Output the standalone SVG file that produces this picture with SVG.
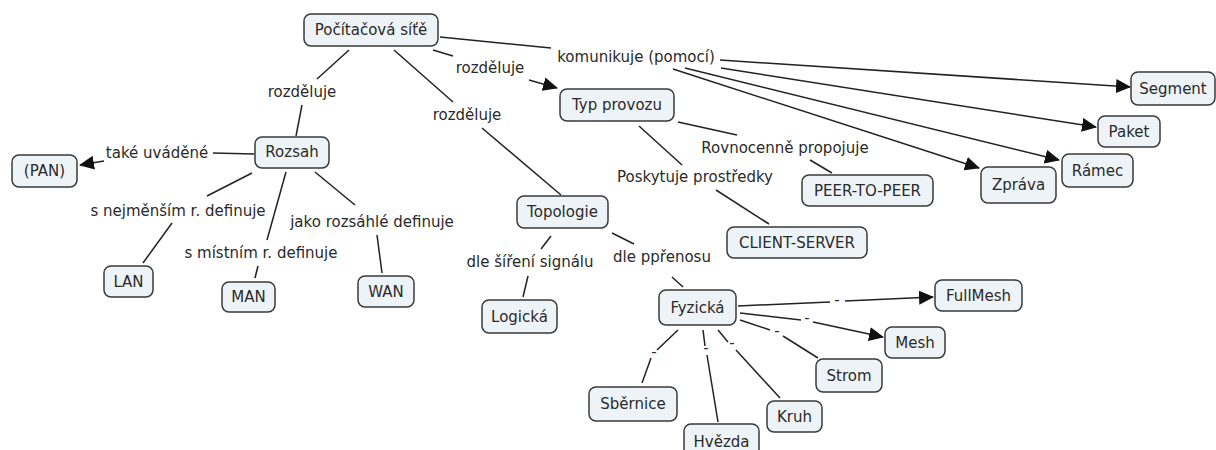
<svg xmlns="http://www.w3.org/2000/svg" width="1216" height="450" viewBox="0 0 1216 450">
<style>
.n rect{fill:#eef3f7;stroke:#3a3a3a;stroke-width:1.5}
text{font-family:"DejaVu Sans","Verdana",sans-serif;font-size:15px;fill:#2a2a2a;text-anchor:middle}
.c line{stroke:#222;stroke-width:1.5;fill:none}
.c line.a{marker-end:url(#ah)}
</style>
<defs>
<marker id="ah" markerUnits="userSpaceOnUse" markerWidth="16" markerHeight="14" refX="14" refY="7" orient="auto">
<path d="M0,0 L15,7 L0,14 Z" fill="#111"/>
</marker>
</defs>
<rect width="1216" height="450" fill="#fff"/>
<g id="connectors" class="c">
<line x1="349" y1="50" x2="317" y2="79"/>
<line x1="302" y1="105" x2="296" y2="136"/>
<line x1="433" y1="50" x2="453" y2="56"/>
<line class="a" x1="529" y1="80" x2="557" y2="88"/>
<line x1="394" y1="50" x2="453" y2="102"/>
<line x1="482" y1="128" x2="561" y2="195"/>
<line x1="440" y1="37" x2="551" y2="48"/>
<line class="a" x1="720" y1="60" x2="1130" y2="87"/>
<line class="a" x1="721" y1="68" x2="1096" y2="127"/>
<line class="a" x1="685" y1="68" x2="1059" y2="160"/>
<line class="a" x1="673" y1="69" x2="979" y2="168"/>
<line x1="254" y1="154" x2="213" y2="153"/>
<line class="a" x1="104" y1="161" x2="80" y2="165"/>
<line x1="252" y1="173" x2="207" y2="196"/>
<line x1="172" y1="223" x2="143" y2="263"/>
<line x1="286" y1="172" x2="267" y2="240"/>
<line x1="258" y1="266" x2="255" y2="278"/>
<line x1="315" y1="172" x2="355" y2="205"/>
<line x1="377" y1="235" x2="382" y2="273"/>
<line x1="678" y1="122" x2="737" y2="135"/>
<line x1="810" y1="160" x2="832" y2="173"/>
<line x1="639" y1="126" x2="682" y2="165"/>
<line x1="716" y1="190" x2="769" y2="224"/>
<line x1="551" y1="236" x2="541" y2="249"/>
<line x1="528" y1="276" x2="523" y2="297"/>
<line x1="612" y1="233" x2="634" y2="244"/>
<line x1="672" y1="277" x2="683" y2="287"/>
<line x1="738" y1="306" x2="830" y2="302"/>
<line class="a" x1="845" y1="301" x2="933" y2="297"/>
<line x1="740" y1="313" x2="801" y2="320"/>
<line class="a" x1="813" y1="322" x2="883" y2="337"/>
<line x1="740" y1="320" x2="770" y2="330"/>
<line x1="783" y1="336" x2="818" y2="358"/>
<line x1="718" y1="330" x2="728" y2="342"/>
<line x1="736" y1="350" x2="780" y2="398"/>
<line x1="703" y1="330" x2="705" y2="346"/>
<line x1="707" y1="355" x2="718" y2="422"/>
<line x1="678" y1="330" x2="657" y2="350"/>
<line x1="651" y1="358" x2="642" y2="383"/>
</g>
<g id="labels">
<text x="302" y="97">rozděluje</text>
<text x="490" y="73">rozděluje</text>
<text x="467" y="120">rozděluje</text>
<text x="636" y="62">komunikuje (pomocí)</text>
<text x="157" y="158">také uváděné</text>
<text x="178" y="216">s nejměnším r. definuje</text>
<text x="261" y="258">s místním r. definuje</text>
<text x="372" y="227">jako rozsáhlé definuje</text>
<text x="785" y="153">Rovnocenně propojuje</text>
<text x="695" y="182">Poskytuje prostředky</text>
<text x="530" y="267">dle šíření signálu</text>
<text x="662" y="262">dle ppřenosu</text>
<text x="837" y="305">-</text>
<text x="807" y="323">-</text>
<text x="777" y="336">-</text>
<text x="732" y="348">-</text>
<text x="706" y="353">-</text>
<text x="654" y="357">-</text>
</g>
<g id="n_pocitac" class="n"><rect x="304" y="14" width="134" height="32" rx="7"/><text x="371" y="35">Počítačová síťě</text></g>
<g id="n_typ" class="n"><rect x="560" y="89" width="114" height="32" rx="7"/><text x="617" y="110">Typ provozu</text></g>
<g id="n_rozsah" class="n"><rect x="255" y="137" width="74" height="31" rx="7"/><text x="292" y="157">Rozsah</text></g>
<g id="n_pan" class="n"><rect x="12" y="155" width="65" height="32" rx="7"/><text x="44.5" y="176">(PAN)</text></g>
<g id="n_lan" class="n"><rect x="104" y="266" width="49" height="31" rx="7"/><text x="128.5" y="286.5">LAN</text></g>
<g id="n_man" class="n"><rect x="222" y="282" width="53" height="30" rx="7"/><text x="248.5" y="302">MAN</text></g>
<g id="n_wan" class="n"><rect x="358" y="276" width="56" height="31" rx="7"/><text x="386" y="296.5">WAN</text></g>
<g id="n_topologie" class="n"><rect x="517" y="196" width="91" height="32" rx="7"/><text x="562.5" y="217">Topologie</text></g>
<g id="n_logicka" class="n"><rect x="482" y="300" width="75" height="33" rx="7"/><text x="519.5" y="321.5">Logická</text></g>
<g id="n_fyzicka" class="n"><rect x="659" y="290" width="77" height="35" rx="7"/><text x="697.5" y="312.5">Fyzická</text></g>
<g id="n_client" class="n"><rect x="727" y="227" width="140" height="31" rx="7"/><text x="797" y="247.5">CLIENT-SERVER</text></g>
<g id="n_peer" class="n"><rect x="802" y="175" width="131" height="31" rx="7"/><text x="867.5" y="195.5">PEER-TO-PEER</text></g>
<g id="n_segment" class="n"><rect x="1131" y="72" width="84" height="33" rx="7"/><text x="1173" y="93.5">Segment</text></g>
<g id="n_paket" class="n"><rect x="1098" y="116" width="62" height="31" rx="7"/><text x="1129" y="136.5">Paket</text></g>
<g id="n_ramec" class="n"><rect x="1062" y="154" width="71" height="33" rx="7"/><text x="1097.5" y="175.5">Rámec</text></g>
<g id="n_zprava" class="n"><rect x="981" y="167" width="75" height="36" rx="7"/><text x="1018.5" y="190">Zpráva</text></g>
<g id="n_fullmesh" class="n"><rect x="935" y="280" width="87" height="31" rx="7"/><text x="978.5" y="300.5">FullMesh</text></g>
<g id="n_mesh" class="n"><rect x="885" y="327" width="60" height="31" rx="7"/><text x="915" y="347.5">Mesh</text></g>
<g id="n_strom" class="n"><rect x="816" y="359" width="66" height="33" rx="7"/><text x="849" y="380.5">Strom</text></g>
<g id="n_kruh" class="n"><rect x="767" y="401" width="55" height="31" rx="7"/><text x="794.5" y="421.5">Kruh</text></g>
<g id="n_sbernice" class="n"><rect x="589" y="387" width="88" height="34" rx="7"/><text x="633" y="409">Sběrnice</text></g>
<g id="n_hvezda" class="n"><rect x="684" y="424" width="75" height="34" rx="7"/><text x="721.5" y="447">Hvězda</text></g>
</svg>
